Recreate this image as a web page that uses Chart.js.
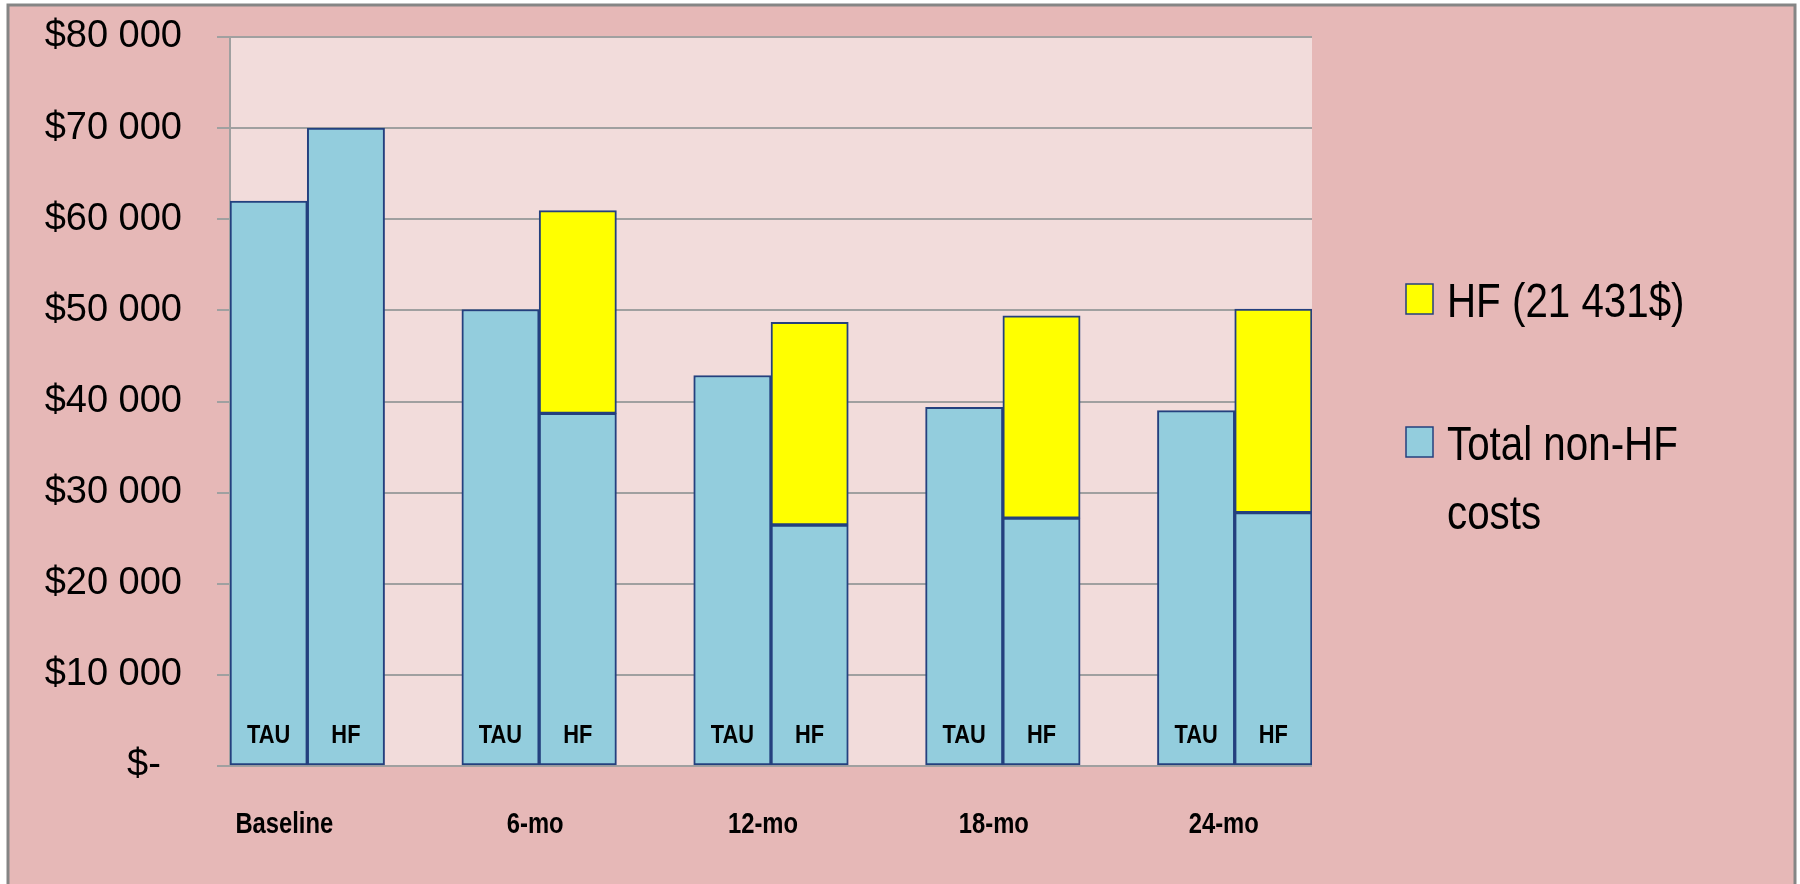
<!DOCTYPE html>
<html>
<head>
<meta charset="utf-8">
<script src="https://cdn.jsdelivr.net/npm/chart.js@4.4.1/dist/chart.umd.min.js"></script>
<style>
  body { margin: 0; background: #fff; }
  canvas { display: block; }
</style>
</head>
<body>
<canvas id="costChart" width="1800" height="884"></canvas>
<script>
// data
const periods = ['Baseline', '6-mo', '12-mo', '18-mo', '24-mo'];
const arms = ['TAU', 'HF'];
const nonHfTau = [62000, 50100, 42850, 39350, 39000];
const nonHfHf = [70000, 38700, 26450, 27200, 27800];
const hfCost = [null, 22250, 22250, 22200, 22350];
const yTicks = [0, 10000, 20000, 30000, 40000, 50000, 60000, 70000, 80000];
const legendNames = ['Total non-HF costs', 'HF (21 431$)'];

const FONT = '"Liberation Sans", Arial, sans-serif';
const NAVY = '#24407e';
const GRID = '#a0a0a0';

// one slot per bar, with an empty slot between the periods
const slotLabels = [];
const slotPeriod = [];
const blueData = [];
const yellowData = [];
periods.forEach((p, i) => {
    arms.forEach(a => {
        slotLabels.push(a);
        slotPeriod.push(i);
    });
    blueData.push(nonHfTau[i], nonHfHf[i]);
    yellowData.push(null, hfCost[i]);
    if (i < periods.length - 1) {
        slotLabels.push('');
        slotPeriod.push(-1);
        blueData.push(null);
        yellowData.push(null);
    }
});

function money(v) {
    if (v === 0) return '$-  ';
    return '$' + String(v).replace(/\B(?=(\d{3})+(?!\d))/g, ' ');
}

// narrow text (the original font is much narrower than Liberation Sans)
function narrowText(ctx, text, x, y, squeeze) {
    ctx.save();
    ctx.translate(x, y);
    ctx.scale(squeeze, 1);
    ctx.fillText(text, 0, 0);
    ctx.restore();
}

const backgroundPlugin = {
    id: 'background',
    beforeDraw(chart) {
        const ctx = chart.ctx;
        const a = chart.chartArea;
        ctx.save();
        ctx.fillStyle = '#ffffff';
        ctx.fillRect(0, 0, chart.width, chart.height);
        ctx.fillStyle = '#e6b8b7';
        ctx.fillRect(8, 5, 1787, chart.height - 5);
        ctx.strokeStyle = '#858585';
        ctx.lineWidth = 3;
        ctx.beginPath();
        ctx.moveTo(8, chart.height + 2);
        ctx.lineTo(8, 5);
        ctx.lineTo(1795, 5);
        ctx.lineTo(1795, chart.height + 2);
        ctx.stroke();
        ctx.fillStyle = '#f2dcdb';
        ctx.fillRect(a.left, a.top, a.right - a.left, a.bottom - a.top);
        ctx.restore();
    }
};

// the period names sit a little left of their pair in the original
const periodNudge = [-23, -4, -8, -9, -11];

const labelsPlugin = {
    id: 'labels',
    afterDatasetsDraw(chart) {
        const ctx = chart.ctx;
        const x = chart.scales.x;
        const bottom = chart.chartArea.bottom;
        ctx.save();
        ctx.fillStyle = '#000';
        ctx.textAlign = 'center';
        ctx.textBaseline = 'alphabetic';

        // TAU / HF inside the bars
        ctx.font = 'bold 26px ' + FONT;
        slotLabels.forEach((lab, i) => {
            if (lab) narrowText(ctx, lab, x.getPixelForValue(i), bottom - 23, 0.84);
        });

        // period names under the pairs
        ctx.font = 'bold 29px ' + FONT;
        periods.forEach((p, i) => {
            const first = slotPeriod.indexOf(i);
            const cx = (x.getPixelForValue(first) + x.getPixelForValue(first + 1)) / 2;
            narrowText(ctx, p, cx + periodNudge[i], bottom + 67, 0.82);
        });

        // legend, HF on top
        const ds = chart.data.datasets;
        const items = [
            { color: ds[1].backgroundColor, lines: ['HF (21 431$)'], top: 284 },
            { color: ds[0].backgroundColor, lines: ['Total non-HF', 'costs'], top: 427 }
        ];
        ctx.font = '48px ' + FONT;
        ctx.textAlign = 'left';
        items.forEach(it => {
            ctx.fillStyle = it.color;
            ctx.fillRect(1406, it.top, 27, 30);
            ctx.strokeStyle = NAVY;
            ctx.lineWidth = 1.5;
            ctx.strokeRect(1406, it.top, 27, 30);
            ctx.fillStyle = '#000';
            it.lines.forEach((t, k) => narrowText(ctx, t, 1447, it.top + 33 + k * 69, 0.84));
        });
        ctx.restore();
    }
};

new Chart(document.getElementById('costChart'), {
    type: 'bar',
    data: {
        labels: slotLabels,
        datasets: [{
            label: legendNames[0],
            data: blueData,
            backgroundColor: '#93cddd',
            borderColor: NAVY,
            borderWidth: 2,
            borderSkipped: false
        }, {
            label: legendNames[1],
            data: yellowData,
            backgroundColor: '#ffff00',
            borderColor: NAVY,
            borderWidth: 2,
            borderSkipped: false
        }]
    },
    options: {
        responsive: false,
        animation: false,
        categoryPercentage: 1,
        barPercentage: 1,
        layout: { padding: { top: 37, right: 488, bottom: 118, left: 0 } },
        plugins: {
            legend: { display: false },
            tooltip: { enabled: false }
        },
        scales: {
            x: {
                stacked: true,
                display: false
            },
            y: {
                stacked: true,
                min: 0,
                max: 80000,
                afterBuildTicks: s => { s.ticks = yTicks.map(v => ({ value: v })); },
                afterFit: s => {
                    s.width = 230;
                    s.paddingTop = 0;
                    s.paddingBottom = 0;
                },
                ticks: {
                    color: '#000',
                    padding: 35,
                    font: { family: FONT, size: 38 },
                    callback: v => money(v)
                },
                grid: { color: GRID, lineWidth: 2, tickLength: 13 },
                border: { color: GRID, width: 2 }
            }
        }
    },
    plugins: [backgroundPlugin, labelsPlugin]
});
</script>
</body>
</html>
